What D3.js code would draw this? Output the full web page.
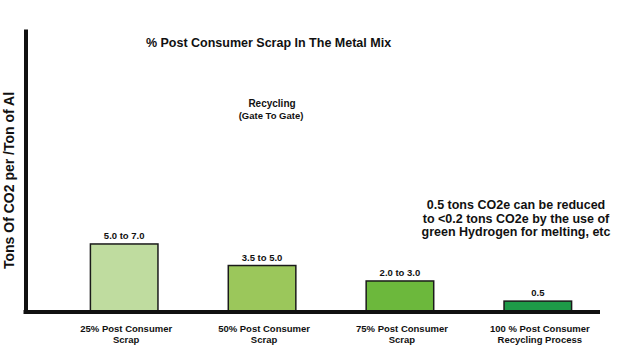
<!DOCTYPE html>
<html>
<head>
<meta charset="utf-8">
<script src="https://cdn.jsdelivr.net/npm/d3@7"></script>
<style>
  html, body { margin: 0; padding: 0; background: #ffffff; }
  svg { display: block; }
  text { font-family: "Liberation Sans", Arial, sans-serif; font-weight: bold; fill: #111; }
</style>
</head>
<body>
<script>
// ---- data ----
const categories = ["25% Post Consumer|Scrap", "50% Post Consumer|Scrap", "75% Post Consumer|Scrap", "100 % Post Consumer|Recycling Process"];
const values = [6.25, 4.27, 2.85, 1.0];           // estimated bar heights (tons CO2 / ton Al)
const valueLabels = ["5.0 to 7.0", "3.5 to 5.0", "2.0 to 3.0", "0.5"];
const barColors = ["#bfdc9f", "#9bc75b", "#6cb83c", "#1e9a48"];
const titleText = "% Post Consumer Scrap In The Metal Mix";
const yTitle = "Tons Of CO2 per /Ton of Al";
const subTitle = ["Recycling", "(Gate To Gate)"];
const note = ["0.5 tons CO2e can be reduced", "to <0.2 tons CO2e by the use of", "green Hydrogen for melting, etc"];

const W = 619, H = 361;
const svg = d3.select("body").append("svg").attr("width", W).attr("height", H);
svg.append("rect").attr("width", W).attr("height", H).attr("fill", "#fff");

const x = d3.scaleBand().domain(categories).range([55.25, 606.75]).paddingInner(0.51).paddingOuter(0.255);
const y = d3.scaleLinear().domain([0, 26]).range([312, 29]);

// bars
svg.selectAll("rect.bar").data(categories).enter().append("rect")
  .attr("class", "bar")
  .attr("x", d => x(d))
  .attr("y", (d, i) => y(values[i]))
  .attr("width", x.bandwidth())
  .attr("height", (d, i) => y(0) - y(values[i]))
  .attr("fill", (d, i) => barColors[i])
  .attr("stroke", "#1a1a1a")
  .attr("stroke-width", 1.5);

// value labels
svg.selectAll("text.vl").data(categories).enter().append("text")
  .attr("class", "vl")
  .attr("x", d => x(d) + x.bandwidth() / 2)
  .attr("y", (d, i) => y(values[i]) - 5)
  .attr("text-anchor", "middle")
  .attr("font-size", 9.5)
  .text((d, i) => valueLabels[i]);

// axes (thick lines, no ticks)
const yAxis = d3.axisLeft(y).tickValues([]).tickSizeOuter(0);
const yg = svg.append("g").attr("transform", "translate(25.5,0)").call(yAxis);
yg.select(".domain").attr("stroke", "#111").attr("stroke-width", 4);
svg.append("line").attr("x1", 23.5).attr("x2", 600).attr("y1", y(0)).attr("y2", y(0))
  .attr("stroke", "#111").attr("stroke-width", 4);

// category labels
const xl = svg.selectAll("text.xl").data(categories).enter().append("text")
  .attr("class", "xl")
  .attr("text-anchor", "middle")
  .attr("font-size", 9.5)
  .attr("transform", d => `translate(${x(d) + x.bandwidth() / 2 + 2},0)`);
xl.each(function(d) {
  const parts = d.split("|");
  const t = d3.select(this);
  parts.forEach((p, j) => t.append("tspan").attr("x", 0).attr("y", 331.5 + j * 11).text(p));
});

// title
svg.append("text").attr("x", 268.5).attr("y", 47).attr("text-anchor", "middle")
  .attr("font-size", 12.5).text(titleText);

// subtitle
svg.append("text").attr("x", 272).attr("y", 107).attr("text-anchor", "middle")
  .attr("font-size", 10).text(subTitle[0]);
svg.append("text").attr("x", 271).attr("y", 119).attr("text-anchor", "middle")
  .attr("font-size", 9.5).text(subTitle[1]);

// note
note.forEach((n, i) => {
  svg.append("text").attr("x", 516).attr("y", 209 + i * 13.7).attr("text-anchor", "middle")
    .attr("font-size", 12.5).text(n);
});

// y title
svg.append("text").attr("transform", "translate(13.5,180.5) rotate(-90)")
  .attr("text-anchor", "middle").attr("font-size", 14).text(yTitle);
</script>
</body>
</html>
